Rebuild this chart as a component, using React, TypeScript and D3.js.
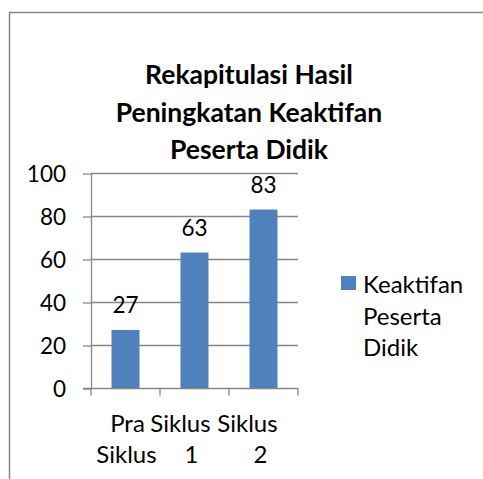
import React, { useEffect, useRef } from 'react';
import * as d3 from 'd3';

const categories = [['Pra', 'Siklus'], ['Siklus', '1'], ['Siklus', '2']];
const values = [27, 63, 83];
const yTicks = [0, 20, 40, 60, 80, 100];
const titleLines = ['Rekapitulasi Hasil', 'Peningkatan Keaktifan', 'Peserta Didik'];
const legendLines = ['Keaktifan', 'Peserta', 'Didik'];

const App = () => {
    const ref = useRef<SVGSVGElement>(null);

    useEffect(() => {
        const svg = d3.select(ref.current);
        svg.selectAll('*').remove();
        const font = 'Lato, Carlito, sans-serif';
        const grey = '#868686';
        const blue = '#4F81BD';

        // chart frame
        svg.append('path')
            .attr('d', 'M9.5,490 V12.5 H490')
            .attr('fill', 'none')
            .attr('stroke', grey)
            .attr('stroke-width', 1.5);

        // title
        svg.append('g')
            .selectAll('text')
            .data(titleLines)
            .enter()
            .append('text')
            .attr('x', 249)
            .attr('y', (d, i) => 84 + i * 37.5)
            .attr('text-anchor', 'middle')
            .attr('font-family', font)
            .attr('font-weight', 'bold')
            .attr('font-size', 26.5)
            .text(d => d);

        const x = d3.scaleBand()
            .domain(categories.map((d, i) => String(i)))
            .range([91, 298])
            .paddingInner(0)
            .paddingOuter(0);

        const y = d3.scaleLinear()
            .domain([0, 100])
            .range([388, 173]);

        // gridlines
        svg.append('g')
            .selectAll('line')
            .data(yTicks.filter(t => t > 0))
            .enter()
            .append('line')
            .attr('x1', 91)
            .attr('x2', 298)
            .attr('y1', d => Math.round(y(d)) + 0.5)
            .attr('y2', d => Math.round(y(d)) + 0.5)
            .attr('stroke', grey)
            .attr('stroke-width', 1.3);

        // y axis
        const yAxis = svg.append('g')
            .attr('transform', 'translate(91,0.5)')
            .call(d3.axisLeft(y).tickValues(yTicks).tickSize(8).tickSizeOuter(0));
        yAxis.select('.domain').attr('stroke', grey).attr('stroke-width', 1.3);
        yAxis.selectAll('.tick line').attr('stroke', grey).attr('stroke-width', 1.3);
        yAxis.selectAll('.tick text')
            .attr('x', -25)
            .attr('dy', '0.36em')
            .attr('fill', '#000')
            .attr('font-family', font)
            .attr('font-size', 22.5);

        // x axis
        const xAxis = svg.append('g')
            .attr('transform', 'translate(0,388.5)');
        xAxis.append('line')
            .attr('x1', 83)
            .attr('x2', 298)
            .attr('stroke', grey)
            .attr('stroke-width', 1.3);
        xAxis.selectAll('line.tk')
            .data([...x.domain(), 'end'])
            .enter()
            .append('line')
            .attr('class', 'tk')
            .attr('x1', (d, i) => 91 + i * x.bandwidth())
            .attr('x2', (d, i) => 91 + i * x.bandwidth())
            .attr('y1', 0)
            .attr('y2', 7)
            .attr('stroke', grey)
            .attr('stroke-width', 1.3);

        // bars
        const barW = 28;
        svg.append('g')
            .selectAll('rect')
            .data(values)
            .enter()
            .append('rect')
            .attr('x', (d, i) => x(String(i))! + x.bandwidth() / 2 - barW / 2)
            .attr('width', barW)
            .attr('y', d => y(d))
            .attr('height', d => y(0) - y(d))
            .attr('fill', blue);

        // data labels
        svg.append('g')
            .selectAll('text')
            .data(values)
            .enter()
            .append('text')
            .attr('x', (d, i) => x(String(i))! + x.bandwidth() / 2)
            .attr('y', d => y(d) - 17)
            .attr('text-anchor', 'middle')
            .attr('font-family', font)
            .attr('font-size', 22.5)
            .text(d => d);

        // category labels (wrapped, as in the source)
        const shift = [[2, 1], [-14, -3], [-16, -3]];
        const cat = svg.append('g')
            .selectAll('g')
            .data(categories)
            .enter()
            .append('g');
        cat.selectAll('text')
            .data((d, i) => d.map((line, j) => ({ line, j, i })))
            .enter()
            .append('text')
            .attr('x', d => x(String(d.i))! + x.bandwidth() / 2 + shift[d.i][d.j])
            .attr('y', d => 432 + d.j * 31)
            .attr('text-anchor', 'middle')
            .attr('font-family', font)
            .attr('font-size', 24)
            .text(d => d.line);

        // legend
        const legend = svg.append('g');
        legend.append('rect')
            .attr('x', 341)
            .attr('y', 276)
            .attr('width', 15)
            .attr('height', 14)
            .attr('fill', blue);
        legend.selectAll('text')
            .data(legendLines)
            .enter()
            .append('text')
            .attr('x', 363)
            .attr('y', (d, i) => 293 + i * 31.5)
            .attr('font-family', font)
            .attr('font-size', 24)
            .text(d => d);
    }, []);

    return (
        <svg ref={ref} width={483} height={479}
            style={{ position: 'absolute', left: 0, top: 0, background: '#fff' }} />
    );
};

export default App;
